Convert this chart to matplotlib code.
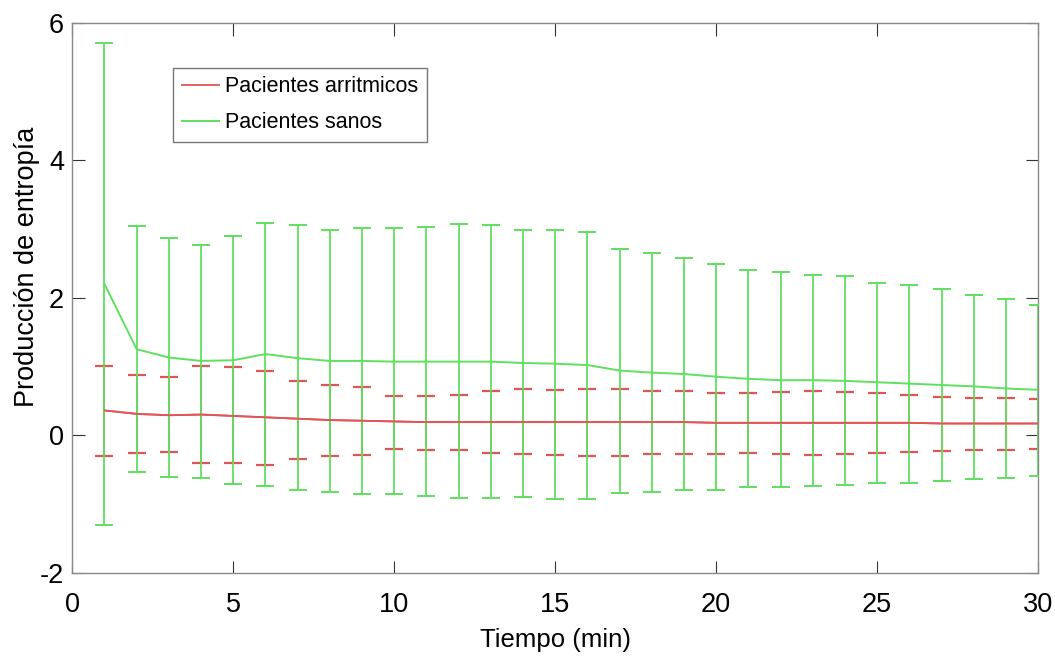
import matplotlib
matplotlib.use("Agg")
import matplotlib.pyplot as plt
import numpy as np

plt.rcParams['font.family'] = ['Liberation Sans', 'DejaVu Sans']
plt.rcParams['axes.unicode_minus'] = False

tiempo = list(range(1, 31))

arr_mean = [0.36, 0.31, 0.29, 0.30, 0.28, 0.26, 0.24, 0.22, 0.21, 0.20,
            0.19, 0.19, 0.19, 0.19, 0.19, 0.19, 0.19, 0.19, 0.19, 0.18,
            0.18, 0.18, 0.18, 0.18, 0.18, 0.18, 0.17, 0.17, 0.17, 0.17]
arr_upper = [1.01, 0.87, 0.84, 1.00, 0.99, 0.94, 0.79, 0.73, 0.70, 0.57,
             0.57, 0.58, 0.64, 0.67, 0.66, 0.67, 0.67, 0.64, 0.64, 0.62,
             0.62, 0.63, 0.64, 0.63, 0.61, 0.58, 0.56, 0.54, 0.54, 0.52]
arr_lower = [-0.30, -0.26, -0.25, -0.40, -0.41, -0.43, -0.34, -0.31, -0.29, -0.20,
             -0.21, -0.22, -0.26, -0.28, -0.29, -0.30, -0.30, -0.28, -0.27, -0.27,
             -0.26, -0.28, -0.29, -0.28, -0.26, -0.25, -0.23, -0.22, -0.22, -0.20]

san_mean = [2.20, 1.25, 1.13, 1.08, 1.09, 1.18, 1.12, 1.08, 1.08, 1.07,
            1.07, 1.07, 1.07, 1.05, 1.04, 1.02, 0.94, 0.91, 0.89, 0.85,
            0.82, 0.80, 0.80, 0.79, 0.77, 0.75, 0.73, 0.71, 0.68, 0.66]
san_upper = [5.71, 3.04, 2.87, 2.76, 2.89, 3.08, 3.05, 2.98, 3.01, 3.01,
             3.03, 3.07, 3.05, 2.99, 2.99, 2.96, 2.71, 2.65, 2.58, 2.49,
             2.40, 2.37, 2.33, 2.31, 2.22, 2.19, 2.12, 2.04, 1.98, 1.90]
san_lower = [-1.31, -0.53, -0.61, -0.62, -0.71, -0.74, -0.80, -0.83, -0.86, -0.86,
             -0.88, -0.91, -0.91, -0.90, -0.93, -0.93, -0.84, -0.82, -0.80, -0.79,
             -0.76, -0.76, -0.74, -0.73, -0.70, -0.69, -0.66, -0.64, -0.62, -0.59]

labels = ['Pacientes arritmicos', 'Pacientes sanos']
red = '#e05555'
green = '#5fe05f'

fig = plt.figure(figsize=(10.55, 6.61), dpi=100)
ax = fig.add_axes([0.0685, 0.1336, 0.9155, 0.8321])

x = np.array(tiempo)
am = np.array(arr_mean)
sm = np.array(san_mean)
c1 = ax.errorbar(x, am, yerr=[am - np.array(arr_lower), np.array(arr_upper) - am],
                 color=red, ecolor=red, elinewidth=1.2, lw=1.3, capsize=6.5,
                 capthick=1.6, zorder=2)
c2 = ax.errorbar(x, sm, yerr=[sm - np.array(san_lower), np.array(san_upper) - sm],
                 color=green, ecolor=green, elinewidth=1.3, lw=1.4, capsize=6.5,
                 capthick=1.4, zorder=3)
# red mean line drawn over the green bars
ax.plot(x, am, color=red, lw=1.3, zorder=4)

ax.set_xlim(0, 30)
ax.set_ylim(-2, 6)
ax.set_xticks([0, 5, 10, 15, 20, 25, 30])
ax.set_yticks([-2, 0, 2, 4, 6])
ax.tick_params(direction='in', length=9, width=0.8, labelsize=19.5,
               top=True, right=True, color='#333333')
ax.tick_params(axis='x', pad=14)
ax.tick_params(axis='y', pad=6)
for s in ax.spines.values():
    s.set_color('#8a8a8a')
    s.set_linewidth(1.0)
ax.set_xlabel('Tiempo (min)', fontsize=18.5)
ax.xaxis.set_label_coords(0.5, -0.1)
ax.set_ylabel('Producción de entropía', fontsize=19.5)
ax.yaxis.set_label_coords(-0.033, 0.556)

leg = ax.legend([c1[0], c2[0]], labels, loc='upper left',
                bbox_to_anchor=(0.1045, 0.918), fontsize=15.5,
                frameon=True, fancybox=False, edgecolor='#555555',
                handlelength=1.75, handletextpad=0.25, borderpad=0.4,
                labelspacing=0.7, borderaxespad=0)
leg.get_frame().set_linewidth(1.0)

fig.savefig('out.png', dpi=100)
